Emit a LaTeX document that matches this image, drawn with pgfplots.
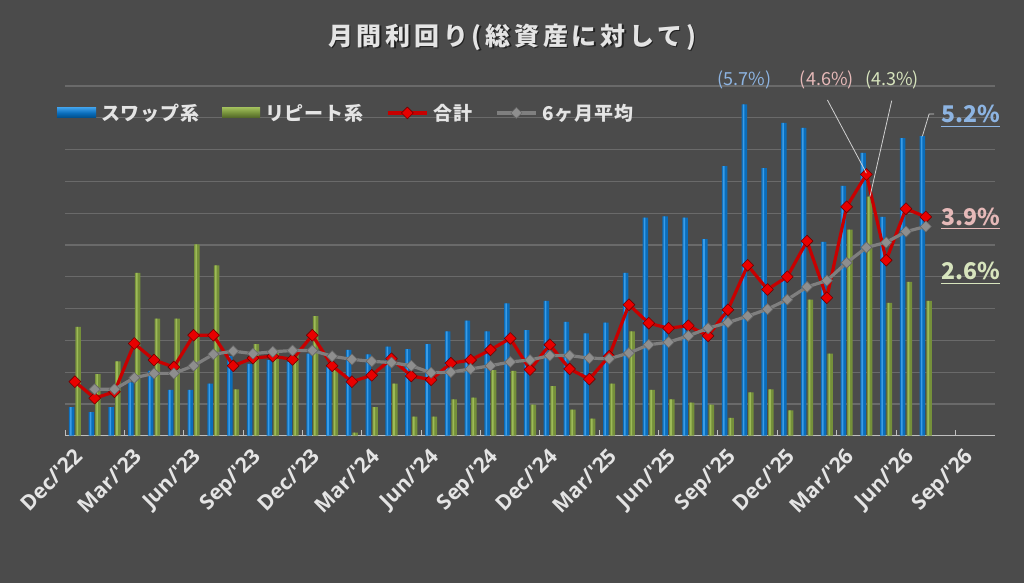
\documentclass[border=0pt]{standalone}
\usepackage{pgfplots}
\usepackage{pgfplotstable}
\pgfplotsset{compat=1.18}
\usepackage{fontspec}
\setmainfont{Noto Sans CJK JP}
\newfontfamily\osans{Open Sans}

\definecolor{bgc}{HTML}{4B4B4B}
\definecolor{gridc}{HTML}{6A6A6A}
\definecolor{axc}{HTML}{BFBFBF}
\definecolor{blueM}{HTML}{0A6DBB}
\definecolor{blueL}{HTML}{3A9CE6}
\definecolor{blueD}{HTML}{004C86}
\definecolor{greenM}{HTML}{75903A}
\definecolor{greenL}{HTML}{9DBA58}
\definecolor{greenD}{HTML}{4F6228}
\definecolor{redL}{HTML}{C80000}
\definecolor{redM}{HTML}{E80000}
\definecolor{grayL}{HTML}{7F7F7F}
\definecolor{grayM}{HTML}{8E8E8E}
\definecolor{txt}{HTML}{E4E4E4}
\definecolor{lblue}{HTML}{8DB4E2}
\definecolor{lpink}{HTML}{E6B9B8}
\definecolor{lgreen}{HTML}{D7E4BD}
\definecolor{leader}{HTML}{D0D0D0}

\pgfplotsset{
  lineleg/.style={legend image code/.code={\draw[##1, mark repeat=2, mark phase=2] plot coordinates {(0pt,0pt) (19.5pt,0pt) (39pt,0pt)};}},
  blueleg/.style={legend image code/.code={\shade[top color=blueL, bottom color=blueD, middle color=blueM] (0pt,-5pt) rectangle (39pt,5pt);}},
  greenleg/.style={legend image code/.code={\shade[top color=greenL, bottom color=greenD, middle color=greenM] (0pt,-5pt) rectangle (38pt,5pt);}},
}

\pgfplotstableread{
i b g r a
0 0.95 2.21 1.35 nan
1 0.87 1.47 1.09 1.23
2 0.95 1.67 1.19 1.23
3 1.34 3.06 1.95 1.41
4 1.52 2.34 1.69 1.48
5 1.22 2.34 1.58 1.48
6 1.22 3.51 2.08 1.60
7 1.32 3.18 2.08 1.78
8 1.75 1.23 1.60 1.83
9 1.63 1.94 1.72 1.79
10 1.69 1.85 1.75 1.82
11 1.66 1.78 1.70 1.84
12 1.79 2.38 2.08 1.84
13 1.58 1.55 1.60 1.75
14 1.85 0.55 1.35 1.70
15 1.78 0.95 1.45 1.67
16 1.90 1.32 1.71 1.65
17 1.86 0.80 1.44 1.60
18 1.94 0.80 1.38 1.49
19 2.14 1.07 1.64 1.50
20 2.31 1.10 1.69 1.55
21 2.14 1.53 1.85 1.60
22 2.58 1.52 2.03 1.66
23 2.16 0.99 1.54 1.69
24 2.62 1.28 1.93 1.76
25 2.29 0.91 1.55 1.76
26 2.11 0.77 1.39 1.72
27 2.28 1.32 1.75 1.71
28 3.06 2.14 2.56 1.80
29 3.93 1.22 2.27 1.93
30 3.95 1.07 2.19 1.97
31 3.93 1.02 2.23 2.07
32 3.59 0.99 2.07 2.19
33 4.74 0.78 2.48 2.28
34 5.71 1.18 3.18 2.38
35 4.71 1.23 2.80 2.49
36 5.42 0.90 3.00 2.64
37 5.34 2.64 3.56 2.84
38 3.55 1.79 2.67 2.94
39 4.43 3.74 4.10 3.22
40 4.95 4.26 4.61 3.46
41 3.94 2.59 3.26 3.54
42 5.18 2.92 4.07 3.71
43 5.21 2.62 3.94 3.79
}\data

\newcommand\legfont{\fontsize{19}{22}\selectfont\bfseries\addfontfeatures{LetterSpace=4}}
\newcommand\titfont{\fontsize{25}{28}\selectfont\bfseries\addfontfeatures{LetterSpace=15}}

\begin{document}
\begin{tikzpicture}
\useasboundingbox (0,0) rectangle (1024pt,583pt);
\fill[bgc] (0,0) rectangle (1024pt,583pt);
\node[text=black, opacity=0.55, font=\titfont] at (513.5pt,544.5pt) {月間利回り(総資産に対して)};
\node[text=txt, font=\titfont] at (512pt,546pt) {月間利回り(総資産に対して)};
\begin{axis}[
  at={(65pt,147.3pt)}, anchor=south west,
  width=930pt, height=349.7pt, scale only axis,
  xmin=-0.5, xmax=46.5, ymin=0.5, ymax=6,
  clip mode=individual,
  axis x line*=bottom, axis y line*=left,
  x axis line style={draw=axc, line width=1.2pt, -},
  y axis line style={draw=none},
  xtick={-0.5,2.5,...,44.5},
  xticklabels={Dec/'22,Mar/'23,Jun/'23,Sep/'23,Dec/'23,Mar/'24,Jun/'24,Sep/'24,Dec/'24,Mar/'25,Jun/'25,Sep/'25,Dec/'25,Mar/'26,Jun/'26,Sep/'26},
  xtick style={draw=axc, line width=1pt},
  tick align=inside,
  major tick length=6pt,
  ytick={1,1.5,...,6}, yticklabels={}, ytick style={draw=none},
  ymajorgrids, major grid style={draw=gridc, line width=1.2pt},
  xticklabel style={font=\osans\bfseries\fontsize{21}{21}\selectfont, text=txt, inner sep=0pt, xshift=8pt, yshift=-11pt, rotate=45, anchor=north east},
  legend columns=4, legend cell align=left,
  legend style={at={(-0.0086,0.923)}, anchor=west, draw=none, fill=none, inner sep=0pt,
    text=txt, font=\legfont,
    /tikz/every odd column/.append style={column sep=3pt},
    /tikz/every even column/.append style={column sep=21pt}},
]
\addplot[ybar, bar width=5.5pt, bar shift=-3.3pt, draw=none, fill=blueM, blueleg]
  table[x=i, y=b] {\data};
\addlegendentry{スワップ系}
\addplot[ybar, bar width=1.6pt, bar shift=-4.1pt, draw=none, fill=blueL, forget plot]
  table[x=i, y=b] {\data};
\addplot[ybar, bar width=5.5pt, bar shift=3.3pt, draw=none, fill=greenM, greenleg]
  table[x=i, y=g] {\data};
\addlegendentry{リピート系}
\addplot[ybar, bar width=1.6pt, bar shift=2.5pt, draw=none, fill=greenL, forget plot]
  table[x=i, y=g] {\data};
\addplot[redL, line width=3.2pt, line join=round, mark=square*, mark size=4.2pt,
  mark options={rotate=45, fill=redM, draw=red!45!black, line width=0.6pt}, lineleg]
  table[x=i, y=r] {\data};
\addlegendentry{合計}
\addplot[grayL, line width=3.2pt, line join=round, mark=square*, mark size=3.9pt,
  mark options={rotate=45, fill=grayM, draw=black!60, line width=0.6pt}, lineleg]
  table[x=i, y=a] {\data};
\addlegendentry{6ヶ月平均}

\draw[leader, line width=0.8pt] (axis cs:38.03,5.78) -- (axis cs:40.0,4.63);
\draw[leader, line width=0.8pt] (axis cs:41.28,5.77) -- (axis cs:40.18,4.26);
\draw[leader, line width=0.8pt] (axis cs:43.42,5.56) -- (axis cs:43.17,5.56) -- (axis cs:42.83,5.21);
\node[text=lblue, anchor=base, inner sep=0pt, font=\fontsize{18}{22}\selectfont] at (axis cs:33.85,6.01) {(5.7\%)};
\node[text=lpink, anchor=base, inner sep=0pt, font=\fontsize{18}{22}\selectfont] at (axis cs:38.0,6.01) {(4.6\%)};
\node[text=lgreen, anchor=base, inner sep=0pt, font=\fontsize{18}{22}\selectfont] at (axis cs:41.3,6.01) {(4.3\%)};
\node[text=lblue, anchor=base, inner sep=0pt, font=\fontsize{23}{26}\selectfont\bfseries] (n1) at (axis cs:45.28,5.42) {5.2\%};
\node[text=lpink, anchor=base, inner sep=0pt, font=\fontsize{23}{26}\selectfont\bfseries] (n2) at (axis cs:45.28,3.81) {3.9\%};
\node[text=lgreen, anchor=base, inner sep=0pt, font=\fontsize{23}{26}\selectfont\bfseries] (n3) at (axis cs:45.28,2.95) {2.6\%};
\draw[lblue, line width=1.5pt] ([yshift=-3.5pt]n1.base west) -- ([yshift=-3.5pt]n1.base east);
\draw[lpink, line width=1.5pt] ([yshift=-3.5pt]n2.base west) -- ([yshift=-3.5pt]n2.base east);
\draw[lgreen, line width=1.5pt] ([yshift=-3.5pt]n3.base west) -- ([yshift=-3.5pt]n3.base east);
\end{axis}
\end{tikzpicture}
\end{document}
